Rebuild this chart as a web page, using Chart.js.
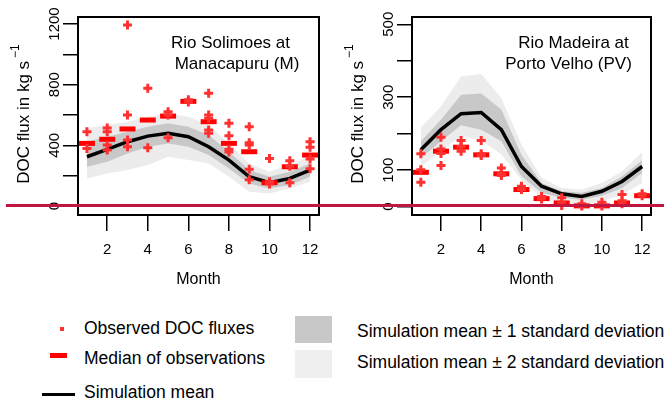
<!DOCTYPE html>
<html>
<head>
<meta charset="utf-8">
<script src="https://cdn.jsdelivr.net/npm/chart.js@4.4.1/dist/chart.umd.min.js"></script>
<style>
  body { margin: 0; background: #fff; font-family: "Liberation Sans", Arial, sans-serif; }
  #wrap { position: relative; width: 664px; height: 404px; overflow: hidden; }
  .pane { position: absolute; top: 0; }
  .lg { position: absolute; font-size: 17.5px; line-height: 20px; color: #000; white-space: nowrap; }
  .mk { position: absolute; }
  #redline { position: absolute; left: 6px; top: 204px; width: 658px; height: 3px; background: #c0163f; z-index: 5; }
</style>
</head>
<body>
<div id="wrap">
  <canvas id="c-sol" class="pane" width="332" height="300" style="left:0"></canvas>
  <canvas id="c-mad" class="pane" width="332" height="300" style="left:332px"></canvas>

  <div class="mk" style="left:60px;top:327px;width:4px;height:4px;background:#ff3030"></div>
  <div class="lg" style="left:84px;top:318px">Observed DOC fluxes</div>
  <div class="mk" style="left:50px;top:353px;width:17px;height:5px;background:#ff0000"></div>
  <div class="lg" style="left:84px;top:348px">Median of observations</div>
  <div class="mk" style="left:42px;top:393px;width:33px;height:3px;background:#000"></div>
  <div class="lg" style="left:84px;top:382px">Simulation mean</div>

  <div class="mk" style="left:295px;top:316px;width:37px;height:27px;background:#c8c8c8"></div>
  <div class="lg" style="left:357px;top:321px">Simulation mean ± 1 standard deviation</div>
  <div class="mk" style="left:295px;top:350px;width:37px;height:28px;background:#efefef"></div>
  <div class="lg" style="left:357px;top:352px">Simulation mean ± 2 standard deviation</div>

  <div id="redline"></div>
</div>

<script>
// ─── data ────────────────────────────────────────────────────────────────────
const MONTHS = [1, 2, 3, 4, 5, 6, 7, 8, 9, 10, 11, 12];
const MONTH_TICKS = [2, 4, 6, 8, 10, 12];

// Rio Solimoes at Manacapuru (M)
const SOL_MEAN   = [325, 374, 424, 461, 479, 457, 391, 303, 193, 154, 182, 237];
const SOL_SD1_HI = [424, 457, 490, 523, 545, 523, 468, 358, 237, 193, 226, 281];
const SOL_SD1_LO = [259, 292, 347, 391, 413, 391, 336, 248, 149, 116, 138, 193];
const SOL_SD2_HI = [512, 534, 556, 589, 607, 589, 534, 413, 281, 226, 270, 325];
const SOL_SD2_LO = [182, 215, 237, 270, 325, 303, 281, 193,  94,  83, 116, 160];
const SOL_OBS = [
  [490, 380], [515, 490, 402, 369], [1193, 600, 435, 391], [776, 385],
  [622, 600, 450], [700, 685], [743, 600, 578, 501, 479], [545, 464, 374, 356],
  [523, 418, 402, 242, 173], [314, 160, 145], [299, 262, 154], [424, 387, 310, 246]
];
const SOL_MED = [413, 440, 508, 567, 593, 690, 556, 413, 358, 154, 259, 336];
const SOL_Y_TICKS  = [0, 200, 400, 600, 800, 1000, 1200];
const SOL_Y_LABELS = [0, 400, 800, 1200];

// Rio Madeira at Porto Velho (PV)
const MAD_MEAN   = [156, 211, 255, 258, 211, 110, 56, 35, 28, 42, 69, 110];
const MAD_SD1_HI = [179, 238, 307, 310, 266, 142, 65, 42, 38, 51, 83, 127];
const MAD_SD1_LO = [133, 179, 223, 211, 179,  83, 38, 24, 19, 30, 51,  92];
const MAD_SD2_HI = [216, 275, 357, 364, 298, 170, 79, 51, 47, 65, 97, 149];
const MAD_SD2_LO = [110, 152, 193, 182, 143,  74, 24, 10,  5, 15, 33,  65];
const MAD_OBS = [
  [145, 101, 67], [190, 158, 146, 113], [181, 165, 152], [181, 145, 140],
  [106, 90, 85], [56, 47], [28, 21], [24, 12, 3],
  [8, 2], [12, 2], [33, 16, 8], [35, 30]
];
const MAD_MED = [94, 152, 163, 142, 90, 47, 22, 10, 2, 2, 10, 30];
const MAD_Y_TICKS  = [0, 100, 200, 300, 400, 500];
const MAD_Y_LABELS = [0, 100, 300, 500];

const FONT = '"Liberation Sans", Arial, sans-serif';
Chart.defaults.font.family = FONT;
Chart.defaults.color = '#000';

const xy = arr => arr.map((v, i) => ({ x: MONTHS[i], y: v }));
const xyObs = obs => obs.flatMap((vals, i) => vals.map(v => ({ x: MONTHS[i], y: v })));

// box, rotated y labels, y title and the in-panel station name
const panelDecor = {
  id: 'panelDecor',
  afterDatasetsDraw(chart, args, o) {
    const { ctx, chartArea: a } = chart;
    const y = chart.scales.y;
    ctx.save();
    ctx.strokeStyle = '#000';
    ctx.lineWidth = 2;
    ctx.strokeRect(a.left, a.top, a.right - a.left, a.bottom - a.top);

    ctx.fillStyle = '#000';
    ctx.textAlign = 'center';
    ctx.textBaseline = 'middle';
    ctx.font = `15px ${FONT}`;
    o.yLabels.forEach(v => {
      ctx.save();
      ctx.translate(a.left - 23, y.getPixelForValue(v));
      ctx.rotate(-Math.PI / 2);
      ctx.fillText(String(v), 0, 0);
      ctx.restore();
    });

    // "DOC flux in kg s^-1"
    const main = 'DOC flux in kg s', sup = '\u22121';
    ctx.font = `17px ${FONT}`;
    const w1 = ctx.measureText(main).width + 3;
    ctx.font = `12px ${FONT}`;
    const w2 = ctx.measureText(sup).width;
    ctx.save();
    ctx.translate(a.left - 54, (a.top + a.bottom) / 2 - 2);
    ctx.rotate(-Math.PI / 2);
    ctx.textAlign = 'left';
    ctx.font = `17px ${FONT}`;
    ctx.fillText(main, -(w1 + w2) / 2, 0);
    ctx.font = `12px ${FONT}`;
    ctx.fillText(sup, -(w1 + w2) / 2 + w1, -8);
    ctx.restore();

    ctx.font = `17px ${FONT}`;
    ctx.textAlign = 'center';
    o.title.forEach((t, i) => ctx.fillText(t, a.right - o.titleDx[i], a.top + 26 + i * 21));
    ctx.restore();
  }
};

function makePanel(id, d) {
  const datasets = [
    { data: xyObs(d.obs), showLine: false, pointStyle: 'cross', pointRadius: 4.5,
      pointBorderWidth: 3, borderColor: '#ff3030', backgroundColor: '#ff3030' },
    { data: xy(d.med), showLine: false, pointStyle: 'line', pointRadius: 8,
      pointBorderWidth: 5, borderColor: '#ff0000', backgroundColor: '#ff0000' },
    { data: xy(d.mean), borderColor: '#000', borderWidth: 3.5, pointRadius: 0, tension: 0 },
    { data: xy(d.sd1hi), borderWidth: 0, pointRadius: 0, fill: '+1', backgroundColor: '#c8c8c8' },
    { data: xy(d.sd1lo), borderWidth: 0, pointRadius: 0, fill: false },
    { data: xy(d.sd2hi), borderWidth: 0, pointRadius: 0, fill: '+1', backgroundColor: '#ececec' },
    { data: xy(d.sd2lo), borderWidth: 0, pointRadius: 0, fill: false },
  ];

  return new Chart(document.getElementById(id), {
    type: 'line',
    data: { datasets },
    plugins: [panelDecor],
    options: {
      responsive: false, animation: false, events: [],
      layout: { padding: { left: 0, top: 17, right: d.padRight, bottom: 0 } },
      plugins: {
        legend: { display: false }, tooltip: { enabled: false },
        panelDecor: { yLabels: d.yLabels, title: d.title, titleDx: d.titleDx },
      },
      scales: {
        x: {
          type: 'linear', min: 0.56, max: 12.44,
          afterBuildTicks: s => { s.ticks = MONTH_TICKS.map(v => ({ value: v })); },
          afterFit: s => { s.height = 85; },
          grid: { drawOnChartArea: false, drawTicks: true, tickLength: 16, color: '#000', lineWidth: 1.5 },
          border: { display: false },
          ticks: { font: { size: 15 }, color: '#000', padding: 10, maxRotation: 0, autoSkip: false },
          title: { display: true, text: 'Month', font: { size: 16 }, color: '#000', padding: { top: 0, bottom: 11 } },
        },
        y: {
          min: d.yMin, max: d.yMax,
          afterBuildTicks: s => { s.ticks = d.yTicks.map(v => ({ value: v })); },
          afterFit: s => { s.width = d.yWidth; },
          grid: { drawOnChartArea: false, drawTicks: true, tickLength: 15, color: '#000', lineWidth: 1.5 },
          border: { display: false },
          ticks: { display: false },
        }
      }
    }
  });
}

makePanel('c-sol', {
  obs: SOL_OBS, med: SOL_MED, mean: SOL_MEAN,
  sd1hi: SOL_SD1_HI, sd1lo: SOL_SD1_LO, sd2hi: SOL_SD2_HI, sd2lo: SOL_SD2_LO,
  yTicks: SOL_Y_TICKS, yLabels: SOL_Y_LABELS, yMin: -59, yMax: 1246,
  yWidth: 78, padRight: 6,
  title: ['Rio Solimoes at', 'Manacapuru (M)'], titleDx: [88.5, 82],
});

makePanel('c-mad', {
  obs: MAD_OBS, med: MAD_MED, mean: MAD_MEAN,
  sd1hi: MAD_SD1_HI, sd1lo: MAD_SD1_LO, sd2hi: MAD_SD2_HI, sd2lo: MAD_SD2_LO,
  yTicks: MAD_Y_TICKS, yLabels: MAD_Y_LABELS, yMin: -23, yMax: 520,
  yWidth: 80, padRight: 3,
  title: ['Rio Madeira at', 'Porto Velho (PV)'], titleDx: [77.5, 82.5],
});
</script>
</body>
</html>
